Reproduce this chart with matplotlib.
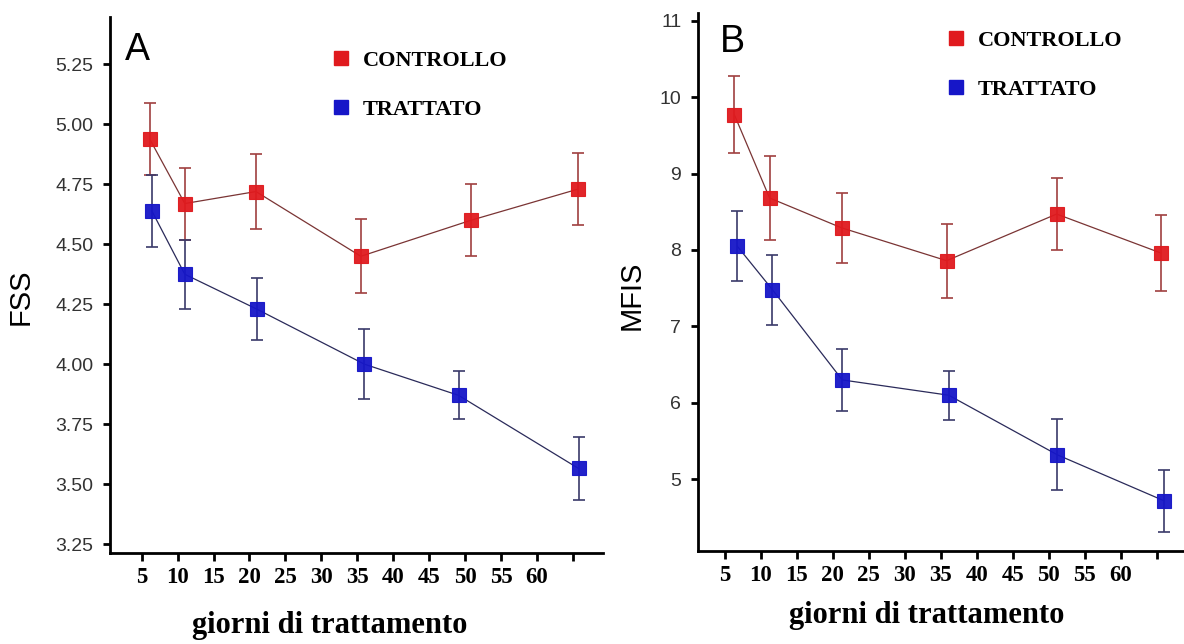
import matplotlib
matplotlib.use("Agg")
from matplotlib import pyplot as plt
from matplotlib.lines import Line2D

# Values (mean +/- error bar half-length).
fss_days_ctrl = [6.1, 11.0, 20.9, 35.5, 50.8, 65.7]
fss_ctrl = [4.94, 4.67, 4.72, 4.45, 4.60, 4.73]
fss_ctrl_err = [0.15, 0.15, 0.155, 0.155, 0.15, 0.15]
fss_days_trt = [6.4, 11.0, 21.0, 36.0, 49.1, 65.8]
fss_trt = [4.64, 4.375, 4.23, 4.00, 3.87, 3.565]
fss_trt_err = [0.15, 0.145, 0.13, 0.145, 0.10, 0.13]

mfis_days_ctrl = [6.3, 11.2, 21.2, 35.8, 51.1, 65.6]
mfis_ctrl = [9.77, 8.68, 8.29, 7.86, 8.47, 7.96]
mfis_ctrl_err = [0.50, 0.545, 0.46, 0.485, 0.465, 0.495]
mfis_days_trt = [6.7, 11.6, 21.3, 36.1, 51.2, 66.0]
mfis_trt = [8.05, 7.48, 6.30, 6.10, 5.32, 4.72]
mfis_trt_err = [0.46, 0.455, 0.405, 0.32, 0.465, 0.405]

x_ticks = [5, 10, 15, 20, 25, 30, 35, 40, 45, 50, 55, 60, 65]
x_ticklabels = ["5", "10", "15", "20", "25", "30", "35", "40", "45", "50", "55", "60", ""]
fss_ticks = [3.25, 3.50, 3.75, 4.00, 4.25, 4.50, 4.75, 5.00, 5.25]
mfis_ticks = [5, 6, 7, 8, 9, 10, 11]

labels = ["CONTROLLO", "TRATTATO"]
RED, BLUE = "#e01a1e", "#1616c8"
SANS = "Liberation Sans"
SERIF = "Liberation Serif"

W, H = 1184, 644
fig = plt.figure(figsize=(W / 100, H / 100), dpi=100)


def px_axes(left, right, top, bottom):
    return fig.add_axes([left / W, 1 - bottom / H, (right - left) / W, (bottom - top) / H])


def draw_panel(ax, dc, yc, ec, dt, yt, et, yticks, yfmt):
    for d, y, e, col, lcol, ecol in [
        (dc, yc, ec, RED, "#7a3434", "#a04040"),
        (dt, yt, et, BLUE, "#2a2a5a", "#3a3a6a"),
    ]:
        ax.plot(d, y, color=lcol, lw=0.9, zorder=2)
        ax.errorbar(d, y, yerr=e, fmt="none", ecolor=ecol, elinewidth=1.2,
                    capsize=4.5, capthick=1.2, zorder=3)
        ax.plot(d, y, ls="none", marker="s", ms=10.5, color=col,
                mec=col, mew=0.8, alpha=0.95, zorder=4)

    for side in ["top", "right"]:
        ax.spines[side].set_visible(False)
    for side in ["left", "bottom"]:
        ax.spines[side].set_linewidth(2)
    ax.tick_params(axis="x", length=6, width=2, pad=4)
    ax.tick_params(axis="y", length=5, width=2, pad=7)
    ax.set_xticks(x_ticks, x_ticklabels)
    ax.set_yticks(yticks, [yfmt % v for v in yticks])
    for t in ax.get_xticklabels():
        t.set_fontfamily(SERIF)
        t.set_fontweight("bold")
        t.set_fontsize(16.5)
    for t in ax.get_yticklabels():
        t.set_fontfamily(SANS)
        t.set_fontsize(14)
        t.set_color("#333333")
    ax.set_xlabel("giorni di trattamento", fontfamily=SERIF, fontweight="bold",
                  fontsize=22)

    handles = [Line2D([], [], ls="none", marker="s", ms=10.5, color=c) for c in (RED, BLUE)]
    return handles


# Panel A: FSS
axA = px_axes(110, 603, 17, 553)
hA = draw_panel(axA, fss_days_ctrl, fss_ctrl, fss_ctrl_err,
                fss_days_trt, fss_trt, fss_trt_err, fss_ticks, "%.2f")
axA.set_xlim(0.59, 69.2)
axA.set_ylim(3.2125, 5.448)
axA.set_ylabel("FSS", fontfamily=SANS, fontsize=21)
axA.yaxis.set_label_coords(-0.1535, 0.478)
axA.xaxis.set_label_coords(0.446, -0.108)
axA.legend(hA, labels, loc="upper left", bbox_to_anchor=(332 / W, 1 - 50 / H),
           bbox_transform=fig.transFigure, frameon=False, borderpad=0,
           borderaxespad=0, handlelength=0.8, handletextpad=0.6,
           labelspacing=1.3, prop={"family": SERIF, "weight": "bold", "size": 16})
fig.text(125 / W, 1 - 60 / H, "A", fontfamily=SANS, fontsize=27,
         ha="left", va="baseline")

# Panel B: MFIS
axB = px_axes(698, 1184, 13, 550.7)
hB = draw_panel(axB, mfis_days_ctrl, mfis_ctrl, mfis_ctrl_err,
                mfis_days_trt, mfis_trt, mfis_trt_err, mfis_ticks, "%d")
axB.set_xlim(1.25, 68.8)
axB.set_ylim(4.066, 11.1)
axB.set_ylabel("MFIS", fontfamily=SANS, fontsize=21)
axB.yaxis.set_label_coords(-0.107, 0.4755)
axB.xaxis.set_label_coords(0.471, -0.0935)
axB.legend(hB, labels, loc="upper left", bbox_to_anchor=(947 / W, 1 - 30 / H),
           bbox_transform=fig.transFigure, frameon=False, borderpad=0,
           borderaxespad=0, handlelength=0.8, handletextpad=0.6,
           labelspacing=1.3, prop={"family": SERIF, "weight": "bold", "size": 16})
fig.text(720 / W, 1 - 52 / H, "B", fontfamily=SANS, fontsize=27,
         ha="left", va="baseline")

fig.savefig("out.png", dpi=100)
